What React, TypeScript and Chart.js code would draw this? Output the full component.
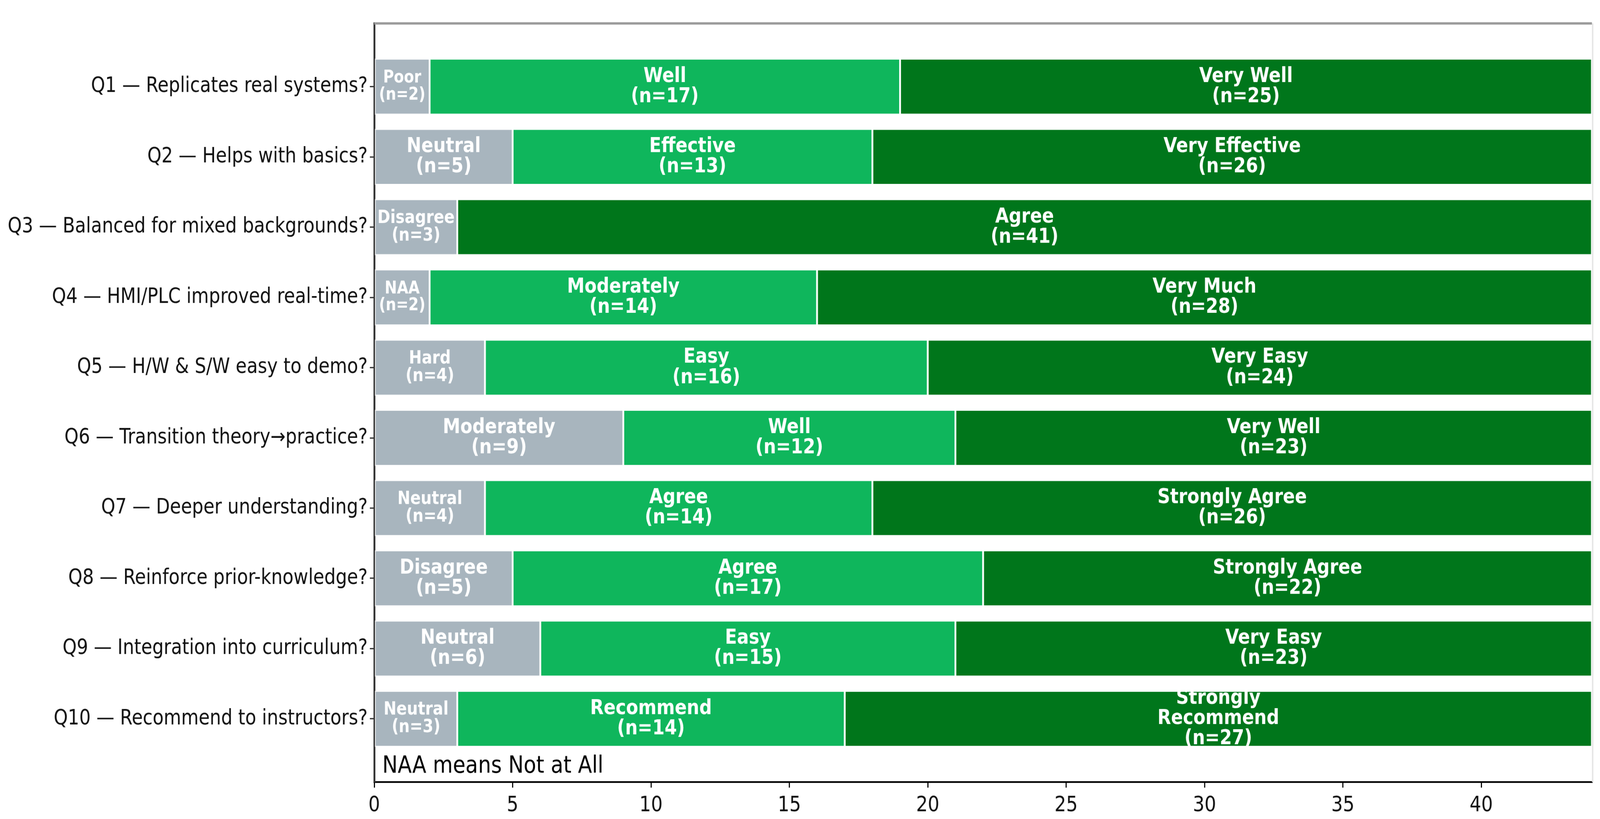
import React, { useEffect, useRef } from "react";
import { Chart, registerables } from "chart.js";

Chart.register(...registerables);

// ---------- data ----------
const questions = [
  "Q1 — Replicates real systems?",
  "Q2 — Helps with basics?",
  "Q3 — Balanced for mixed backgrounds?",
  "Q4 — HMI/PLC improved real-time?",
  "Q5 — H/W & S/W easy to demo?",
  "Q6 — Transition theory→practice?",
  "Q7 — Deeper understanding?",
  "Q8 — Reinforce prior-knowledge?",
  "Q9 — Integration into curriculum?",
  "Q10 — Recommend to instructors?",
];

const lowCounts = [2, 5, 3, 2, 4, 9, 4, 5, 6, 3];
const lowLabels = ["Poor", "Neutral", "Disagree", "NAA", "Hard", "Moderately", "Neutral", "Disagree", "Neutral", "Neutral"];

const midCounts: (number | null)[] = [17, 13, null, 14, 16, 12, 14, 17, 15, 14];
const midLabels = ["Well", "Effective", "", "Moderately", "Easy", "Well", "Agree", "Agree", "Easy", "Recommend"];

const highCounts = [25, 26, 41, 28, 24, 23, 26, 22, 23, 27];
const highLabels = [
  "Very Well", "Very Effective", "Agree", "Very Much", "Very Easy",
  "Very Well", "Strongly Agree", "Strongly Agree", "Very Easy", "Strongly\nRecommend",
];

const xTicks = [0, 5, 10, 15, 20, 25, 30, 35, 40];
const xMax = 44;
const noteText = "NAA means Not at All";

// ---------- layout / style ----------
const W = 4365;
const SCREEN_H = 2097;
const STRETCH = 1.1;
const H = Math.round(SCREEN_H / STRETCH);
const FONT = "'DejaVu Sans', 'Liberation Sans', sans-serif";
const PLOT_LEFT = 1021;
const PLOT_RIGHT = 4343;
const PLOT_TOP = 60 / STRETCH;
const PLOT_BOTTOM = 2002 / STRETCH;

const COLORS = { low: "#A8B5BE", mid: "#0FB65C", high: "#00761B" };

function labelSize(v: number) {
  if (v <= 2) return 40;
  if (v <= 4) return 42;
  return 48;
}

function toPoints(arr: (number | null)[]) {
  const pts: { x: number; y: number }[] = [];
  arr.forEach((v, i) => {
    if (v != null && v > 0) pts.push({ x: v, y: i });
  });
  return pts;
}

const barLabelPlugin = {
  id: "barLabels",
  afterDatasetsDraw(chart: any) {
    const ctx = chart.ctx;
    chart.data.datasets.forEach((ds: any, di: number) => {
      const meta = chart.getDatasetMeta(di);
      meta.data.forEach((el: any, j: number) => {
        const pt = ds.data[j];
        if (!pt || pt.x == null) return;
        const { x, base, y } = el.getProps(["x", "base", "y"], true);
        const size = labelSize(pt.x);
        const lines = [...String(ds.segLabels[pt.y]).split("\n"), `(n=${pt.x})`];
        ctx.save();
        ctx.font = `bold ${size}px ${FONT}`;
        ctx.fillStyle = "#ffffff";
        ctx.textAlign = "center";
        ctx.textBaseline = "middle";
        const step = size * 0.98;
        const cx = (x + base) / 2;
        lines.forEach((ln, k) => {
          ctx.fillText(ln, cx, y + (k - (lines.length - 1) / 2) * step);
        });
        ctx.restore();
      });
    });
  },
};

const framePlugin = {
  id: "frame",
  afterDraw(chart: any) {
    const { ctx, chartArea } = chart;
    ctx.save();
    // top spine
    ctx.strokeStyle = "#9a9a9a";
    ctx.lineWidth = 5.5;
    ctx.beginPath();
    ctx.moveTo(chartArea.left, chartArea.top);
    ctx.lineTo(chartArea.right, chartArea.top);
    ctx.stroke();
    // right spine (faint)
    ctx.strokeStyle = "#e6e6e6";
    ctx.lineWidth = 4;
    ctx.beginPath();
    ctx.moveTo(chartArea.right + 2, chartArea.top);
    ctx.lineTo(chartArea.right + 2, chartArea.bottom);
    ctx.stroke();
    // note text
    ctx.fillStyle = "#000";
    ctx.font = `56px ${FONT}`;
    ctx.textAlign = "left";
    ctx.textBaseline = "alphabetic";
    ctx.fillText(noteText, chartArea.left + 22, chartArea.bottom - 22);
    ctx.restore();
  },
};

export default function App() {
  const ref = useRef<HTMLCanvasElement>(null);
  const vw = (typeof window !== "undefined" && window.innerWidth) || W;
  const vh = (typeof window !== "undefined" && window.innerHeight) || SCREEN_H;

  useEffect(() => {
    document.body.style.margin = "0";
    document.body.style.overflow = "hidden";
    const canvas = ref.current;
    if (!canvas) return;
    const common = {
      barPercentage: 0.8,
      categoryPercentage: 1.0,
      borderWidth: 2.5,
      borderColor: "rgba(255,255,255,0.75)",
      borderSkipped: false as const,
    };
    const chart = new Chart(canvas, {
      type: "bar",
      data: {
        datasets: [
          { ...common, label: "low", data: toPoints(lowCounts), backgroundColor: COLORS.low, segLabels: lowLabels } as any,
          { ...common, label: "mid", data: toPoints(midCounts), backgroundColor: COLORS.mid, segLabels: midLabels } as any,
          { ...common, label: "high", data: toPoints(highCounts), backgroundColor: COLORS.high, segLabels: highLabels } as any,
        ],
      },
      options: {
        animation: false,
        responsive: false,
        devicePixelRatio: Math.max(1, window.devicePixelRatio || 1),
        indexAxis: "y",
        layout: { padding: { top: PLOT_TOP, right: W - PLOT_RIGHT, bottom: 0, left: 0 } },
        plugins: { legend: { display: false }, tooltip: { enabled: false } },
        scales: {
          x: {
            type: "linear",
            min: 0,
            max: xMax,
            stacked: true,
            afterBuildTicks: (s: any) => {
              s.ticks = xTicks.map((v) => ({ value: v }));
            },
            afterFit: (s: any) => {
              s.height = H - PLOT_BOTTOM;
            },
            grid: { display: true, drawOnChartArea: false, drawTicks: true, tickLength: 13, color: "#000", lineWidth: 3 },
            border: { display: true, color: "#000", width: 4 },
            ticks: { font: { family: FONT, size: 50 }, color: "#111", padding: 12, maxRotation: 0, autoSkip: false },
          },
          y: {
            type: "linear",
            min: -0.9,
            max: 9.9,
            reverse: true,
            offset: false,
            stacked: true,
            afterBuildTicks: (s: any) => {
              s.ticks = questions.map((_, i) => ({ value: i }));
            },
            afterFit: (s: any) => {
              s.width = PLOT_LEFT;
            },
            grid: { display: true, drawOnChartArea: false, drawTicks: true, tickLength: 12, color: "#333", lineWidth: 3, offset: false },
            border: { display: true, color: "#333", width: 5 },
            ticks: {
              autoSkip: false,
              font: { family: FONT, size: 49 },
              color: "#111",
              padding: 6,
              callback: (v: any) => questions[v as number] ?? "",
            },
          },
        },
      } as any,
      plugins: [barLabelPlugin, framePlugin],
    });
    return () => chart.destroy();
  }, []);

  return (
    <canvas
      ref={ref}
      width={W}
      height={H}
      style={{ position: "fixed", left: 0, top: 0, width: `${vw}px`, height: `${vh}px`, background: "#fff" }}
    />
  );
}
